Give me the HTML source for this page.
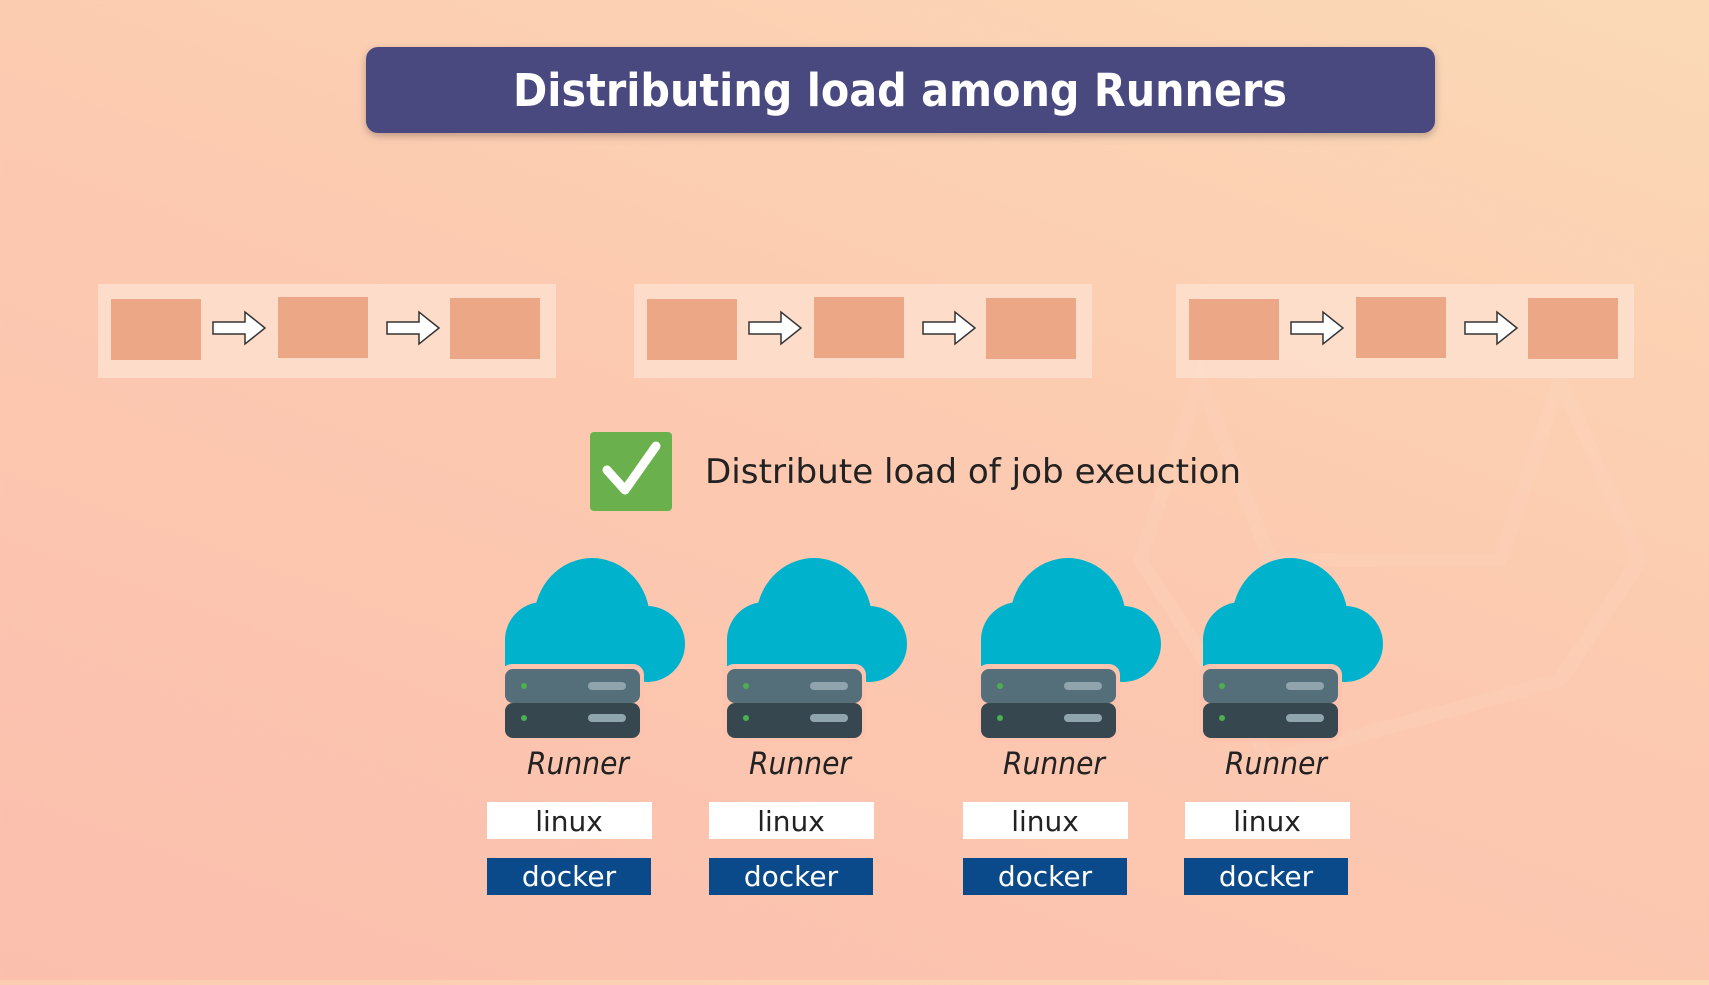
<!DOCTYPE html>
<html><head><meta charset="utf-8"><style>
html,body{margin:0;padding:0}
body{width:1709px;height:980px;overflow:hidden;background:linear-gradient(200deg,#fbd9b6 0%,#fccab0 45%,#fbbfae 100%);}
</style></head><body>
<svg width="1709" height="980" viewBox="0 0 1709 980" xmlns="http://www.w3.org/2000/svg">
<defs>
<filter id="sh" x="-5%" y="-20%" width="110%" height="150%"><feDropShadow dx="0" dy="3" stdDeviation="4" flood-color="#000" flood-opacity="0.25"/></filter>
<g id="grp">
  <rect x="0" y="0" width="458" height="94" fill="#fde1cf" fill-opacity="0.8"/>
  <rect x="13" y="15" width="90" height="61" fill="#eca787"/>
  <rect x="180" y="13" width="90" height="61" fill="#eca787"/>
  <rect x="352" y="14" width="90" height="61" fill="#eca787"/>
  <path d="M115,38 h32 v-10 l20,16 l-20,16 v-10 h-32 z" fill="#fff" stroke="#333" stroke-width="1.5"/>
  <path d="M289,38 h32 v-10 l20,16 l-20,16 v-10 h-32 z" fill="#fff" stroke="#333" stroke-width="1.5"/>
</g>
<g id="run">
  <ellipse cx="87" cy="62" rx="58" ry="62" fill="#00b2cc"/>
  <circle cx="38" cy="82" r="38" fill="#00b2cc"/>
  <circle cx="142" cy="86" r="38" fill="#00b2cc"/>
  <rect x="0" y="80" width="150" height="28" fill="#00b2cc"/>
  <rect x="-4" y="106" width="143" height="78" rx="11" fill="#fcc4ae"/>
  <rect x="0" y="111" width="135" height="34" rx="8" fill="#546e7a"/>
  <rect x="0" y="145" width="135" height="35" rx="8" fill="#37474f"/>
  <circle cx="19" cy="128" r="3" fill="#4caf50"/>
  <circle cx="19" cy="160" r="3" fill="#4caf50"/>
  <rect x="83" y="124" width="38" height="8" rx="4" fill="#90a4ae"/>
  <rect x="83" y="156" width="38" height="8" rx="4" fill="#90a4ae"/>
</g>
</defs>
<g opacity="0.06" fill="none" stroke="#fff" stroke-width="14">
  <path d="M1200,380 L1140,560 L1270,760 L1560,680 L1640,560 L1560,380 L1500,560 L1270,560 L1200,380 Z"/>
</g>
<rect x="366" y="47" width="1069" height="86" rx="12" fill="#4a4a80" filter="url(#sh)"/>
<text x="513" y="106" textLength="774" lengthAdjust="spacingAndGlyphs" font-family="'DejaVu Sans','Liberation Sans',sans-serif" font-weight="bold" font-size="45" fill="#fff">Distributing load among Runners</text>
<rect x="590" y="432" width="82" height="79" rx="4" fill="#6ab04c"/>
<path d="M607,470 L625,490 L656,446" fill="none" stroke="#fff" stroke-width="9" stroke-linecap="round" stroke-linejoin="round"/>
<text x="705" y="483" textLength="536" lengthAdjust="spacingAndGlyphs" font-family="'DejaVu Sans','Liberation Sans',sans-serif" font-size="34" fill="#222">Distribute load of job exeuction</text>
<use href="#grp" x="98" y="284"/>
<use href="#grp" x="634" y="284"/>
<use href="#grp" x="1176" y="284"/>
<g font-family="'DejaVu Sans','Liberation Sans',sans-serif">
<use href="#run" x="505" y="558"/>
<use href="#run" x="727" y="558"/>
<use href="#run" x="981" y="558"/>
<use href="#run" x="1203" y="558"/>
<g font-size="31" font-style="italic" fill="#222" text-anchor="middle">
<text x="578" y="774" textLength="102" lengthAdjust="spacingAndGlyphs">Runner</text><text x="800" y="774" textLength="102" lengthAdjust="spacingAndGlyphs">Runner</text><text x="1054" y="774" textLength="102" lengthAdjust="spacingAndGlyphs">Runner</text><text x="1276" y="774" textLength="102" lengthAdjust="spacingAndGlyphs">Runner</text>
</g>
<g fill="#fff"><rect x="487" y="802" width="165" height="37"/><rect x="709" y="802" width="165" height="37"/><rect x="963" y="802" width="165" height="37"/><rect x="1185" y="802" width="165" height="37"/></g>
<g fill="#0b4a8a"><rect x="487" y="858" width="164" height="37"/><rect x="709" y="858" width="164" height="37"/><rect x="963" y="858" width="164" height="37"/><rect x="1184" y="858" width="164" height="37"/></g>
<g font-size="28" text-anchor="middle" fill="#222">
<text x="569" y="831">linux</text><text x="791" y="831">linux</text><text x="1045" y="831">linux</text><text x="1267" y="831">linux</text>
</g>
<g font-size="28" text-anchor="middle" fill="#fff">
<text x="569" y="886">docker</text><text x="791" y="886">docker</text><text x="1045" y="886">docker</text><text x="1266" y="886">docker</text>
</g>
</g>
</svg>
</body></html>
